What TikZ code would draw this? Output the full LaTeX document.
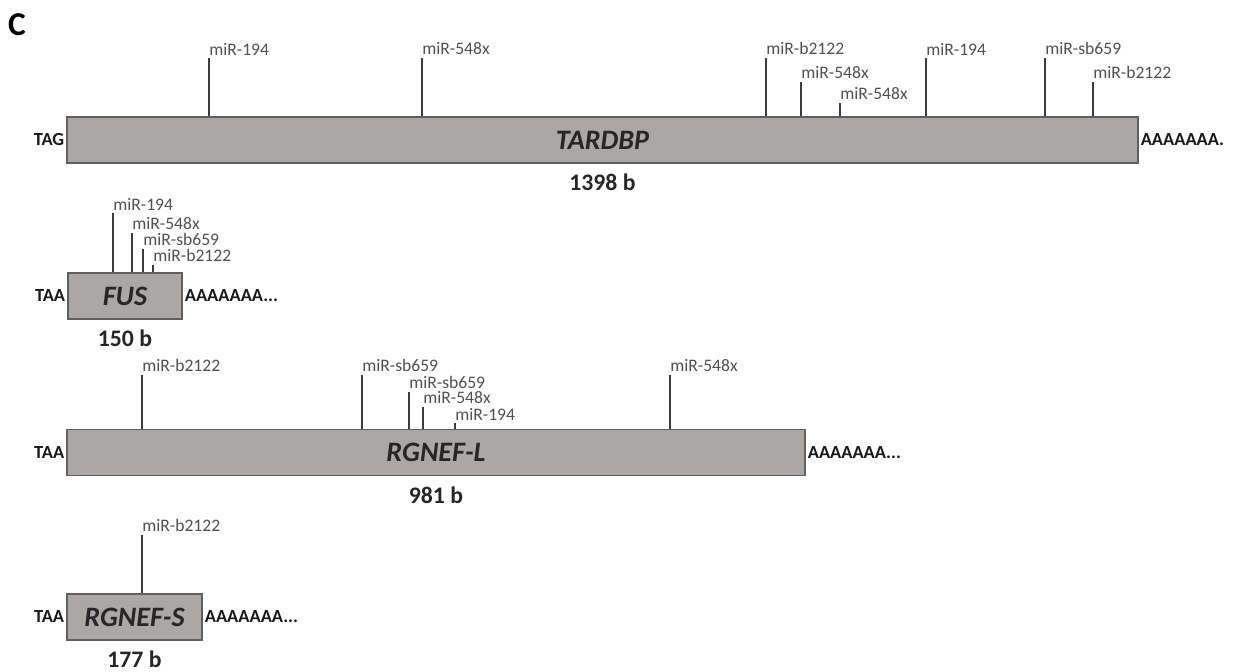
\documentclass[tikz,border=0pt]{standalone}
\usepackage{fontspec}
\setmainfont{Carlito}
\usetikzlibrary{positioning}
\definecolor{boxgray}{RGB}{170,167,165}
\definecolor{edgegray}{RGB}{95,95,95}
\definecolor{tickgray}{RGB}{60,60,60}
\definecolor{mirgray}{RGB}{80,80,80}
\tikzset{
  genebox/.style={draw=edgegray, fill=boxgray, line width=0.9pt, minimum height=0.92cm, inner sep=0pt, text=black!85, font=\fontsize{16}{18}\selectfont\bfseries\itshape},
  endlbl/.style={inner sep=0.5pt, text=black!90, font=\fontsize{10.5}{12}\selectfont\bfseries},
  sizelbl/.style={inner sep=0pt, text=black!85, font=\fontsize{13.5}{15}\selectfont\bfseries},
  mir/.style={anchor=south west, inner xsep=0pt, inner ysep=1.5pt, text=mirgray, font=\fontsize{10}{11}\selectfont},
  tick/.style={draw=tickgray, line width=0.6pt}
}
\begin{document}
\begin{tikzpicture}[x=0.02cm, y=-0.02cm]
\useasboundingbox (0,0) rectangle (1244,672);
\node[font=\fontsize{19}{21}\selectfont\bfseries] (panel) at (17,25) {C};

% TARDBP
\node[genebox, minimum width=21.42cm] (tardbp) at (602.5,140) {TARDBP};
\node[endlbl, left=0.5pt of tardbp] (tardbpL) {TAG};
\node[endlbl, right=0.5pt of tardbp] (tardbpR) {AAAAAAA.};
\node[sizelbl, below=0.2cm of tardbp] (tardbpS) {1398 b};
\node[mir] (t1) at (209,58) {miR-194};
\node[mir] (t2) at (422,58) {miR-548x};
\node[mir] (t3) at (766,58) {miR-b2122};
\node[mir] (t4) at (801,82) {miR-548x};
\node[mir] (t5) at (840,103) {miR-548x};
\node[mir] (t6) at (926,58) {miR-194};
\node[mir] (t7) at (1045,58) {miR-sb659};
\node[mir] (t8) at (1093,82) {miR-b2122};
\draw[tick] (t1.south west) -- (t1.south west |- tardbp.north);
\draw[tick] (t2.south west) -- (t2.south west |- tardbp.north);
\draw[tick] (t3.south west) -- (t3.south west |- tardbp.north);
\draw[tick] (t4.south west) -- (t4.south west |- tardbp.north);
\draw[tick] (t5.south west) -- (t5.south west |- tardbp.north);
\draw[tick] (t6.south west) -- (t6.south west |- tardbp.north);
\draw[tick] (t7.south west) -- (t7.south west |- tardbp.north);
\draw[tick] (t8.south west) -- (t8.south west |- tardbp.north);

% FUS
\node[genebox, minimum width=2.28cm] (fus) at (125,296) {FUS};
\node[endlbl, left=0.5pt of fus] (fusL) {TAA};
\node[endlbl, right=0.5pt of fus] (fusR) {AAAAAAA...};
\node[sizelbl, below=0.2cm of fus] (fusS) {150 b};
\node[mir] (f1) at (113,213) {miR-194};
\node[mir] (f2) at (132,233) {miR-548x};
\node[mir] (f3) at (143,249) {miR-sb659};
\node[mir] (f4) at (153,265) {miR-b2122};
\draw[tick] (f1.south west) -- (f1.south west |- fus.north);
\draw[tick] (f2.south west) -- (f2.south west |- fus.north);
\draw[tick] (f3.south west) -- (f3.south west |- fus.north);
\draw[tick] (f4.south west) -- (f4.south west |- fus.north);

% RGNEF-L
\node[genebox, minimum width=14.76cm] (rgnefl) at (436,452.5) {RGNEF-L};
\node[endlbl, left=0.5pt of rgnefl] (rgneflL) {TAA};
\node[endlbl, right=0.5pt of rgnefl] (rgneflR) {AAAAAAA...};
\node[sizelbl, below=0.2cm of rgnefl] (rgneflS) {981 b};
\node[mir] (l1) at (142,375) {miR-b2122};
\node[mir] (l2) at (362,375) {miR-sb659};
\node[mir] (l3) at (409,392) {miR-sb659};
\node[mir] (l4) at (423,407) {miR-548x};
\node[mir] (l5) at (455,423) {miR-194};
\node[mir] (l6) at (670,375) {miR-548x};
\draw[tick] (l1.south west) -- (l1.south west |- rgnefl.north);
\draw[tick] (l2.south west) -- (l2.south west |- rgnefl.north);
\draw[tick] (l3.south west) -- (l3.south west |- rgnefl.north);
\draw[tick] (l4.south west) -- (l4.south west |- rgnefl.north);
\draw[tick] (l5.south west) -- (l5.south west |- rgnefl.north);
\draw[tick] (l6.south west) -- (l6.south west |- rgnefl.north);

% RGNEF-S
\node[genebox, minimum width=2.7cm] (rgnefs) at (134.5,617) {RGNEF-S};
\node[endlbl, left=0.5pt of rgnefs] (rgnefsL) {TAA};
\node[endlbl, right=0.5pt of rgnefs] (rgnefsR) {AAAAAAA...};
\node[sizelbl, below=0.2cm of rgnefs] (rgnefsS) {177 b};
\node[mir] (s1) at (142,535) {miR-b2122};
\draw[tick] (s1.south west) -- (s1.south west |- rgnefs.north);
\end{tikzpicture}
\end{document}
